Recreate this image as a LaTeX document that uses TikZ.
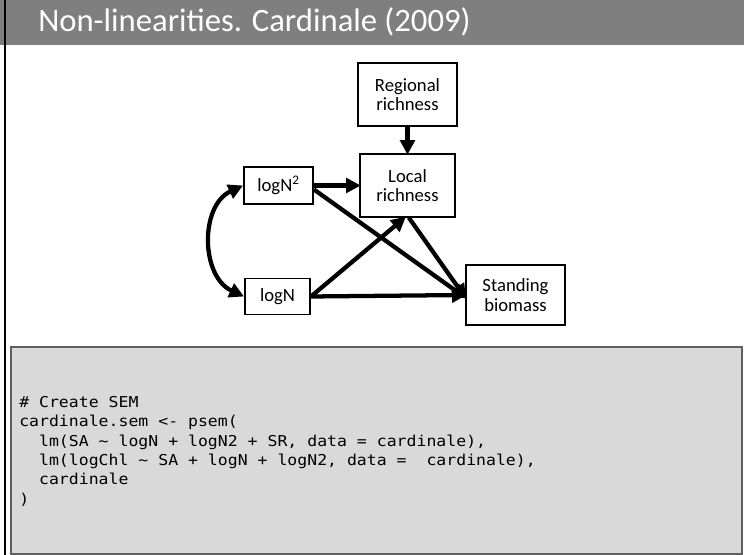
\documentclass[tikz,border=0pt]{standalone}
\usepackage{fontspec}
\setmainfont{Carlito}
\newfontfamily\codefont[FakeStretch=1.1]{DejaVu Sans Mono}
\usetikzlibrary{arrows.meta}
\definecolor{titlegray}{HTML}{7F7F7F}
\definecolor{codefill}{HTML}{D9D9D9}
\definecolor{codeline}{HTML}{5F5F5F}
\tikzset{
  varbox/.style={draw=black, line width=1.2pt, fill=white, inner sep=0pt, align=center,
    font=\fontsize{14}{14.8}\selectfont},
  path arrow/.style={line width=3.2pt, -{Triangle[length=11pt,width=11pt]}, shorten >=-1pt},
}
\begin{document}
\begin{tikzpicture}[x=0.75pt,y=-0.75pt]
\useasboundingbox (0,0) rectangle (744,555);
\fill[white] (0,0) rectangle (744,555);
% title bar
\fill[titlegray] (0,0) rectangle (744,45);
\node[anchor=base west, text=white, inner sep=0pt, font=\fontsize{24.5}{28}\selectfont] (title) at (38,32) {Non-linearities. Cardinale (2009)};
% left border line
\draw[black, line width=2pt] (5,0) -- (5,555);
% code box
\draw[draw=codeline, fill=codefill, line width=2pt] (11,347) rectangle (742,554);
\node[anchor=north west, inner sep=0pt, align=left, font=\codefont\fontsize{11.25}{14.5}\selectfont] (code) at (19,396)
{\# Create SEM\\
cardinale.sem <- psem(\\
\ \ lm(SA \textasciitilde\ logN + logN2 + SR, data = cardinale),\\
\ \ lm(logChl \textasciitilde\ SA + logN + logN2, data = \ cardinale),\\
\ \ cardinale\\
)};
% nodes
\node[varbox, minimum width=74pt, minimum height=47pt] (reg) at (407.5,94.5) {Regional\\richness};
\node[varbox, minimum width=71pt, minimum height=47pt] (loc) at (407.5,185.5) {Local\\richness};
\node[varbox, minimum width=52pt, minimum height=28pt] (l2) at (278.5,185.5) {logN\textsuperscript{2}};
\node[varbox, minimum width=49pt, minimum height=27pt] (ln) at (277.5,296.5) {logN};
\node[varbox, minimum width=74pt, minimum height=45pt] (sb) at (515.5,295) {Standing\\biomass};
\coordinate (sbin) at ([yshift=-2pt]sb.west);
% arrows
\draw[path arrow] (reg.south) -- (loc.north);
\draw[path arrow] (l2.east) -- (loc.west);
\draw[path arrow] ([yshift=-3pt]l2.east) -- (sbin);
\draw[path arrow] ([xshift=1pt]loc.south) -- (sbin);
\draw[path arrow] (ln.east) -- ([xshift=-2pt]loc.south);
\draw[path arrow] (ln.east) -- (sb.west);
\draw[line width=3.2pt, {Triangle[length=11pt,width=11pt]}-{Triangle[length=11pt,width=11pt]}]
  (l2.west) to[out=205,in=155,looseness=1.1] (ln.west);
\end{tikzpicture}
\end{document}
